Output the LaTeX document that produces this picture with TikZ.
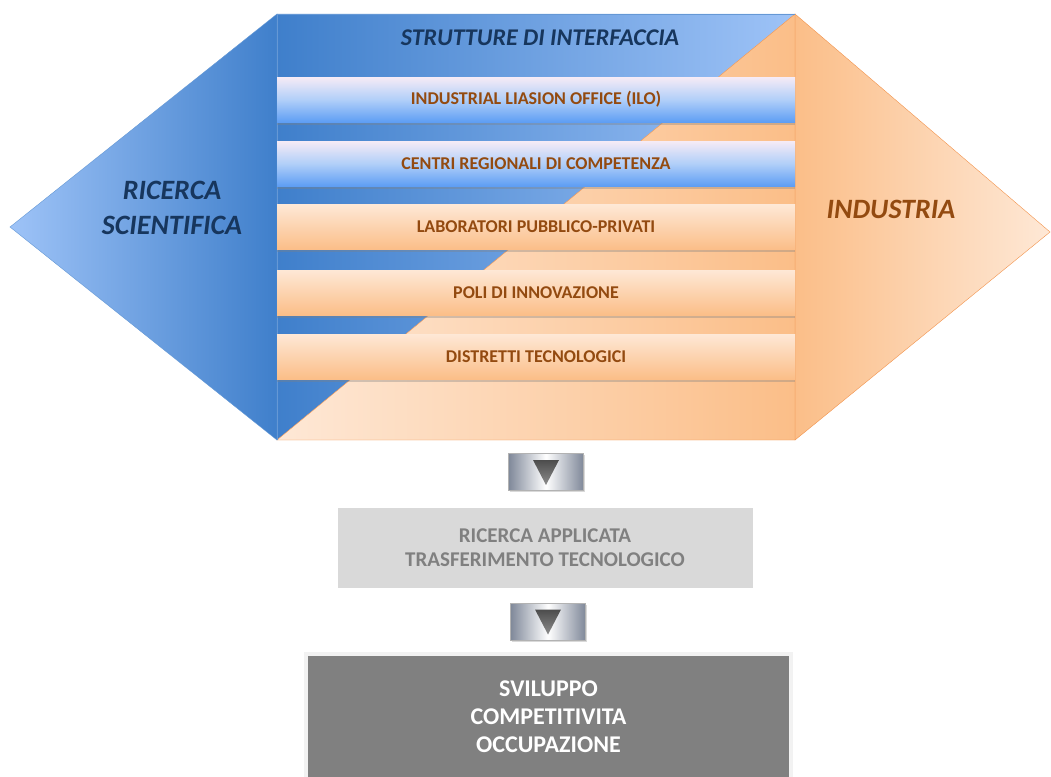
\documentclass[tikz,border=0pt]{standalone}
\usepackage{fontspec}
\setmainfont{Carlito}
\usetikzlibrary{shadows,calc}

\definecolor{bluedk}{HTML}{3F7FCB}
\definecolor{bluelt}{HTML}{9EC3F7}
\definecolor{bluebar}{HTML}{5E9EF4}
\definecolor{pinkbar}{HTML}{F6EBF6}
\definecolor{ordk}{HTML}{FBBE88}
\definecolor{orlt}{HTML}{FEE8D6}
\definecolor{orline}{HTML}{F2934C}
\definecolor{brown}{HTML}{934A10}
\definecolor{navy}{HTML}{17365D}
\definecolor{metal}{HTML}{7F8899}

\tikzset{
  bar/.style={minimum width=518, minimum height=45, inner sep=0pt,
    font=\fontsize{18}{20}\selectfont\bfseries, text=brown,
    drop shadow={shadow xshift=0pt, shadow yshift=-2.5pt, opacity=.35}},
  bluebar/.style={bar, top color=pinkbar, bottom color=bluebar, middle color=bluelt!80},
  orbar/.style={bar, top color=orlt, bottom color=ordk},
  side/.style={font=\fontsize{28}{35}\selectfont\bfseries\itshape, align=center},
  arrbox/.style={minimum width=75, minimum height=37, inner sep=0pt,
    left color=metal, right color=metal, middle color=white, draw=gray!60,
    drop shadow={shadow xshift=1pt, shadow yshift=-1.5pt, opacity=.3}},
  tri/.style={top color=black!70, bottom color=black!45},
  graybox/.style={line width=4pt, draw=white, inner sep=0pt, align=center,
    drop shadow={shadow xshift=1pt, shadow yshift=-2pt, opacity=.3}}
}

\begin{document}
\begin{tikzpicture}[x=1pt, y=-1pt]
\useasboundingbox (0,0) rectangle (1051,776);

% the two sides and the middle band
\shade[left color=bluelt, right color=bluedk, draw=bluedk!80] (10,227) -- (277,14) -- (277,440) -- cycle;
\shade[left color=ordk, right color=orlt, draw=orline] (1050,232) -- (795,14) -- (795,440) -- cycle;
\shade[left color=bluedk, right color=bluelt] (277,14) -- (795,14) -- (277,440) -- cycle;
\shade[left color=orlt, right color=ordk] (795,14) -- (795,440) -- (277,440) -- cycle;
\draw[orline] (277,440) -- (795,14) -- (795,440) -- cycle;
\draw[bluedk!80] (277,440) -- (277,14) -- (795,14);

\node[side, text=navy, font=\fontsize{24}{28}\selectfont\bfseries\itshape] (hdr) at (540,38) {STRUTTURE DI INTERFACCIA};
\node[side, text=navy] (ricerca) at (172,208) {RICERCA\\SCIENTIFICA};
\node[side, text=brown] (industria) at (891,209) {INDUSTRIA};

\node[bluebar] (ilo) at (536,99.5) {INDUSTRIAL LIASION OFFICE (ILO)};
\node[bluebar] (centri) at (536,163.5) {CENTRI REGIONALI DI COMPETENZA};
\node[orbar] (lab) at (536,227) {LABORATORI PUBBLICO-PRIVATI};
\node[orbar] (poli) at (536,292.5) {POLI DI INNOVAZIONE};
\node[orbar] (distretti) at (536,356.5) {DISTRETTI TECNOLOGICI};

% flow below
\node[arrbox] (arr1) at (546,472) {};
\shade[tri] ($(arr1.center)+(-13,-12)$) -- ($(arr1.center)+(13,-12)$) -- ($(arr1.center)+(0,13)$) -- cycle;

\node[graybox, fill=black!15, minimum width=419, minimum height=84,
  font=\fontsize{21}{24}\selectfont\bfseries, text=black!50] (applicata) at (545,548)
  {RICERCA APPLICATA\\TRASFERIMENTO TECNOLOGICO};

\node[arrbox] (arr2) at (548,621.5) {};
\shade[tri] ($(arr2.center)+(-13,-12)$) -- ($(arr2.center)+(13,-12)$) -- ($(arr2.center)+(0,13)$) -- cycle;

\node[graybox, draw=black!5, fill=black!50, minimum width=485, minimum height=126,
  font=\fontsize{24}{28}\selectfont\bfseries, text=white] (sviluppo) at (548.5,717)
  {SVILUPPO\\COMPETITIVITA\\OCCUPAZIONE};
\end{tikzpicture}
\end{document}
